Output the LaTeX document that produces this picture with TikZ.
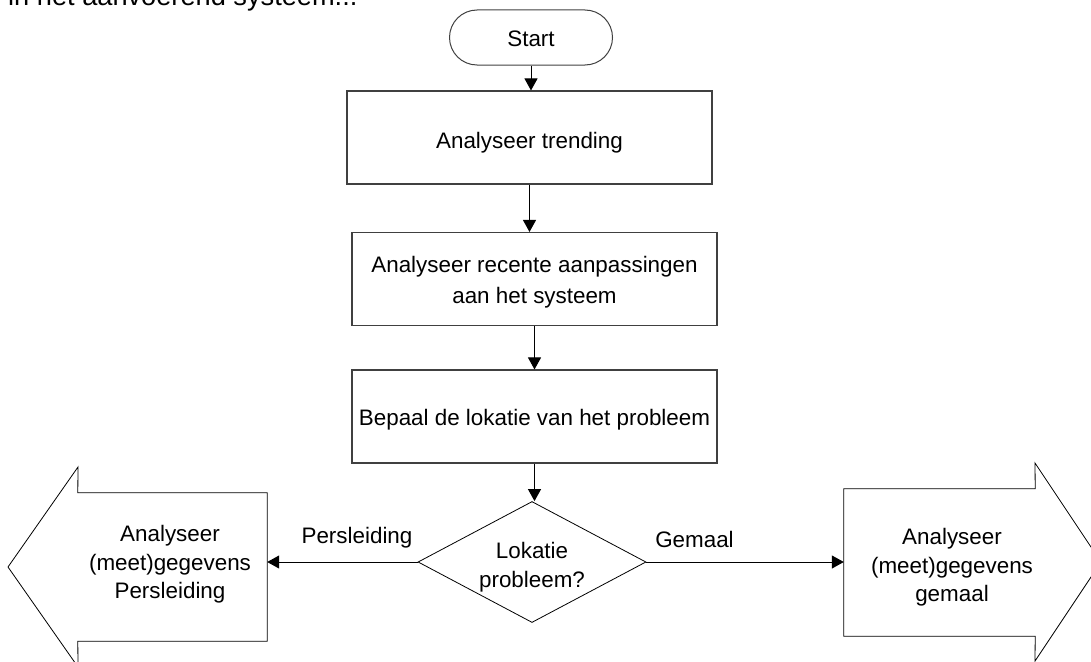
\documentclass[tikz,border=0pt]{standalone}
\usepackage{fontspec}
\setmainfont{Liberation Sans}
\usetikzlibrary{shapes.geometric,arrows.meta}
\begin{document}
\begin{tikzpicture}[x=1pt,y=-1pt,
  every node/.style={font=\fontsize{22.4}{28}\selectfont, inner sep=0pt},
  term/.style={draw=black!75, line width=1pt, rounded corners=27.5pt, minimum width=163pt, minimum height=55pt, text depth=0pt},
  proc/.style={draw=black!75, line width=1.1pt, minimum width=365pt, minimum height=93pt},
  dec/.style={diamond, draw=black, line width=0.8pt, minimum width=228pt, minimum height=121pt, aspect=1.9},
  bigbody/.style={inner sep=0pt},
  big/.style={draw=black, line width=0.8pt},
  conn/.style={line width=1pt, -{Triangle[length=12pt,width=13pt]}},
  multi/.style={align=center},
  lbl/.style={anchor=base, inner sep=0pt}
]
\useasboundingbox (0,0) rectangle (1091,661);
\clip (0,0) rectangle (1091,661);

% cut-off line of text at the top
\node[anchor=base west, font=\fontsize{27.2}{32}\selectfont] (toptext) at (8,5.5) {in het aanvoerend systeem...};

% flow nodes
\node[term, text height=18pt] (start) at (531,37.5) {Start};
\node[proc, text height=21pt, text depth=0pt] (b1) at (529.5,137.5) {Analyseer trending};
\node[proc] (b2) at (534.5,279) {};
\node[multi, font=\fontsize{22.4}{31}\selectfont] (b2t) at (534.5,282) {Analyseer recente aanpassingen\\aan het systeem};
\node[proc, text height=17pt, text depth=0pt] (b3) at (534.5,416.5) {Bepaal de lokatie van het probleem};
\node[dec] (d) at (532,562) {};
\node[multi, font=\fontsize{22.4}{28.4}\selectfont] (dt) at (532,567) {Lokatie\\probleem?};

% big arrow shapes
\node[bigbody, minimum width=189pt, minimum height=148pt] (la) at (172.5,567) {};
\draw[big] (la.north east) -- (la.north west) -- (78,467) -- (8,567) -- (78,667) -- (la.south west) -- (la.south east) -- cycle;
\node[multi, font=\fontsize{22.4}{28.2}\selectfont] (lat) at (170,564.4) {Analyseer\\(meet)gegevens\\Persleiding};

\node[bigbody, minimum width=191pt, minimum height=147pt] (ra) at (939.5,562.5) {};
\draw[big] (ra.north west) -- (ra.north east) -- (1035,463) -- (1101,562) -- (1035,661) -- (ra.south east) -- (ra.south west) -- cycle;
\node[multi, font=\fontsize{22.4}{28.2}\selectfont] (rat) at (952,567.3) {Analyseer\\(meet)gegevens\\gemaal};

% connectors
\draw[conn] (start.south) -- (start.south |- b1.north);
\draw[conn] (b1.south) -- (b1.south |- b2.north);
\draw[conn] (b2.south) -- (b2.south |- b3.north);
\draw[conn] (b3.south) -- (b3.south |- d.north);
\draw[conn] (d.west) -- (d.west -| la.east);
\draw[conn] (d.east) -- (d.east -| ra.west);

% branch labels
\node[lbl] (lp) at (357,543) {Persleiding};
\node[lbl] (lg) at (694.5,547.7) {Gemaal};
\end{tikzpicture}
\end{document}
